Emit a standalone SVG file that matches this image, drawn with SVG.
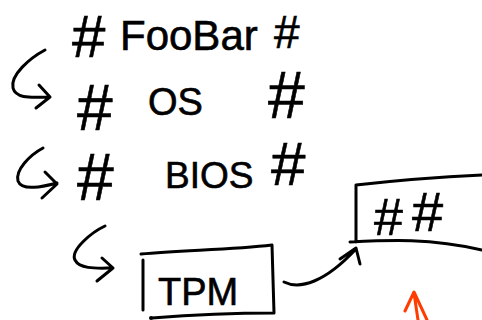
<svg xmlns="http://www.w3.org/2000/svg" width="482" height="320" viewBox="0 0 482 320">
<style>
.ink{fill:none;stroke:#000;stroke-width:3;stroke-linecap:round;stroke-linejoin:round}
.red{fill:none;stroke:#ff3d00;stroke-width:3;stroke-linecap:round;stroke-linejoin:round}
text{font-family:"Liberation Sans",Arial,sans-serif;fill:#000;stroke:#000;stroke-width:0.6}
.w{font-size:38px}
</style>
<rect width="482" height="320" fill="#fff"/>
<g id="foobar">
<text><tspan x="72" y="57" font-size="60">#</tspan><tspan x="120" y="50" font-size="42">FooBar</tspan><tspan x="274" y="48" font-size="46">#</tspan></text>
</g>
<g id="os">
<text><tspan x="77" y="130" font-size="64">#</tspan><tspan class="w" x="148" y="115">OS</tspan><tspan x="268" y="118" font-size="66">#</tspan></text>
</g>
<g id="bios">
<text><tspan x="77" y="200" font-size="66">#</tspan><tspan x="165" y="188" font-size="37">BIOS</tspan><tspan x="271" y="185" font-size="62">#</tspan></text>
</g>
<g id="tpm">
<path class="ink" d="M141,254 C180,250 230,250 272,245 L274,313 M152,318 C190,315 230,313 274,313 M143,260 L143,310"/>
<circle cx="151" cy="318" r="2" fill="#000"/>
<text class="w" x="158" y="305">TPM</text>
</g>
<g id="hashbox">
<path class="ink" d="M356,185 C400,180 440,177 482,175 M356,185 L356,242 M350,242 C390,240 430,238 482,250"/>
<text><tspan x="374" y="235" font-size="52">#</tspan><tspan x="412" y="231" font-size="56">#</tspan></text>
</g>
<g id="connectors">
<path class="ink" d="M45,50 C30,58 10,75 13,88 C16,100 35,97 50,97 M39,85 L50,97 L36,108"/>
<path class="ink" d="M43,148 C30,155 15,170 18,181 C22,192 45,186 57,183 M45,172 L57,184 L42,198"/>
<path class="ink" d="M105,226 C92,232 70,250 75,260 C80,270 100,268 113,268 M102,258 L113,268 L97,281"/>
<path class="ink" d="M284,282 C300,290 325,282 355,250 M340,259 L356,248 L360,264"/>
<path class="red" d="M418,320 L414,293 M405,311 L414,292 L427,320"/>
</g>
</svg>
